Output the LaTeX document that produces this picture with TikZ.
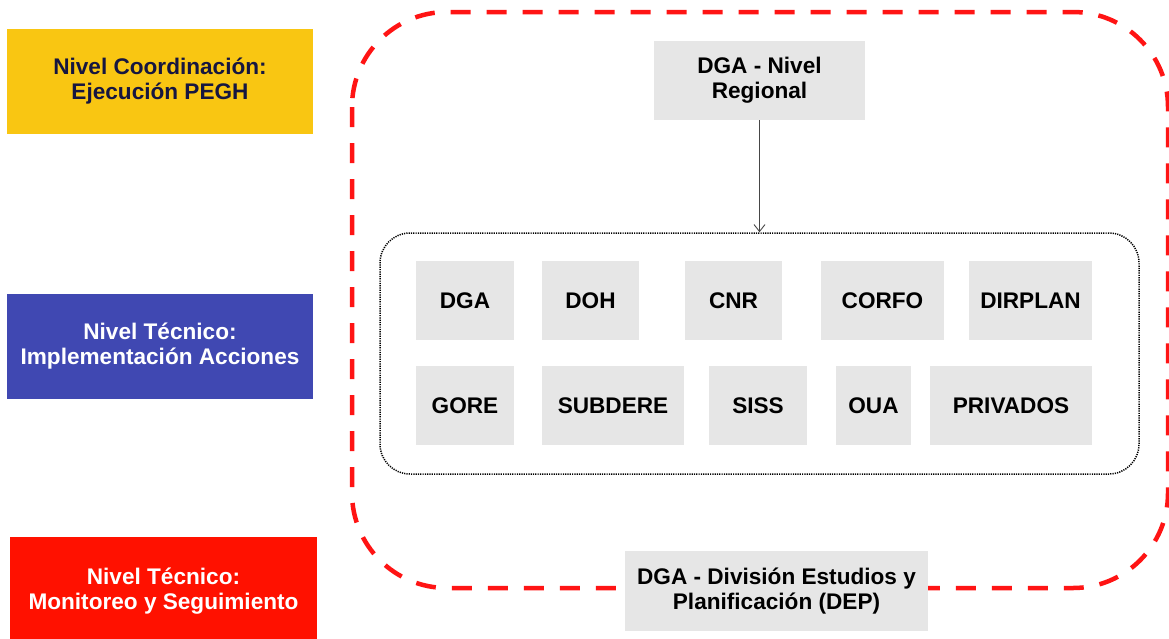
\documentclass[tikz,border=0pt]{standalone}
\usepackage{fontspec}
\setmainfont{Liberation Sans}
\usetikzlibrary{arrows.meta}
\definecolor{lvlyellow}{RGB}{249,198,18}
\definecolor{lvlblue}{RGB}{64,72,178}
\definecolor{lvlred}{RGB}{255,17,0}
\definecolor{navytext}{RGB}{22,22,64}
\definecolor{boxgray}{RGB}{230,230,230}
\definecolor{dashred}{RGB}{255,20,20}
\definecolor{arrgray}{RGB}{70,70,70}
\newcommand{\lblfont}{\fontsize{22.6}{25}\selectfont\bfseries}
\begin{document}
\begin{tikzpicture}[x=1pt,y=-1pt,
  lvlbox/.style={minimum width=306pt, minimum height=105pt, inner sep=0pt, align=center, font=\lblfont},
  gbox/.style={fill=boxgray, inner sep=0pt, align=center, minimum height=79pt, font=\lblfont, text=black},
  outerline/.style={draw=dashred, line width=4.5pt, dash pattern=on 20pt off 16pt, rounded corners=95pt},
  groupline/.style={draw=black, line width=1.5pt, dash pattern=on 1.2pt off 1.1pt, rounded corners=30pt},
  arr/.style={draw=arrgray, line width=0.9pt, -{Straight Barb[length=7pt,width=11pt]}}]
\useasboundingbox (0,0) rectangle (1169,638);
\fill[white] (0,0) rectangle (1169,638);

% outer red dashed region
\draw[outerline] (352,12) rectangle (1168,588);

% level boxes
\node[lvlbox, fill=lvlyellow, text=navytext] (coord) at (160,81.5) {Nivel Coordinación:\\Ejecución PEGH};
\node[lvlbox, fill=lvlblue, text=white] (tec) at (160,346.5) {Nivel Técnico:\\Implementación Acciones};
\node[lvlbox, fill=lvlred, text=white, minimum width=307pt, minimum height=108pt] (mon) at (163.5,591) {Nivel Técnico:\\Monitoreo y Seguimiento};

% regional box
\node[gbox, minimum width=211pt] (reg) at (759.5,80.5) {DGA - Nivel\\Regional};

% dotted group
\node[groupline, minimum width=759pt, minimum height=241pt, inner sep=0pt] (grp) at (759.5,353.5) {};

% institutions row 1
\node[gbox, minimum width=98pt] (dga) at (465,300.5) {DGA};
\node[gbox, minimum width=97pt] (doh) at (590.5,300.5) {DOH};
\node[gbox, minimum width=97pt] (cnr) at (733.5,300.5) {CNR};
\node[gbox, minimum width=123pt] (corfo) at (882.5,300.5) {CORFO};
\node[gbox, minimum width=123pt] (dirplan) at (1030.5,300.5) {DIRPLAN};
% row 2
\node[gbox, minimum width=98pt] (gore) at (465,405.5) {GORE};
\node[gbox, minimum width=142pt] (subdere) at (613,405.5) {SUBDERE};
\node[gbox, minimum width=98pt] (siss) at (758,405.5) {SISS};
\node[gbox, minimum width=75pt] (oua) at (873.5,405.5) {OUA};
\node[gbox, minimum width=162pt] (priv) at (1011,405.5) {PRIVADOS};

% arrow
\draw[arr] (reg.south) -- (grp.north);

% DEP box
\node[gbox, minimum width=303pt, minimum height=80pt] (dep) at (776.5,591) {DGA - División Estudios y\\Planificación (DEP)};
\end{tikzpicture}
\end{document}
